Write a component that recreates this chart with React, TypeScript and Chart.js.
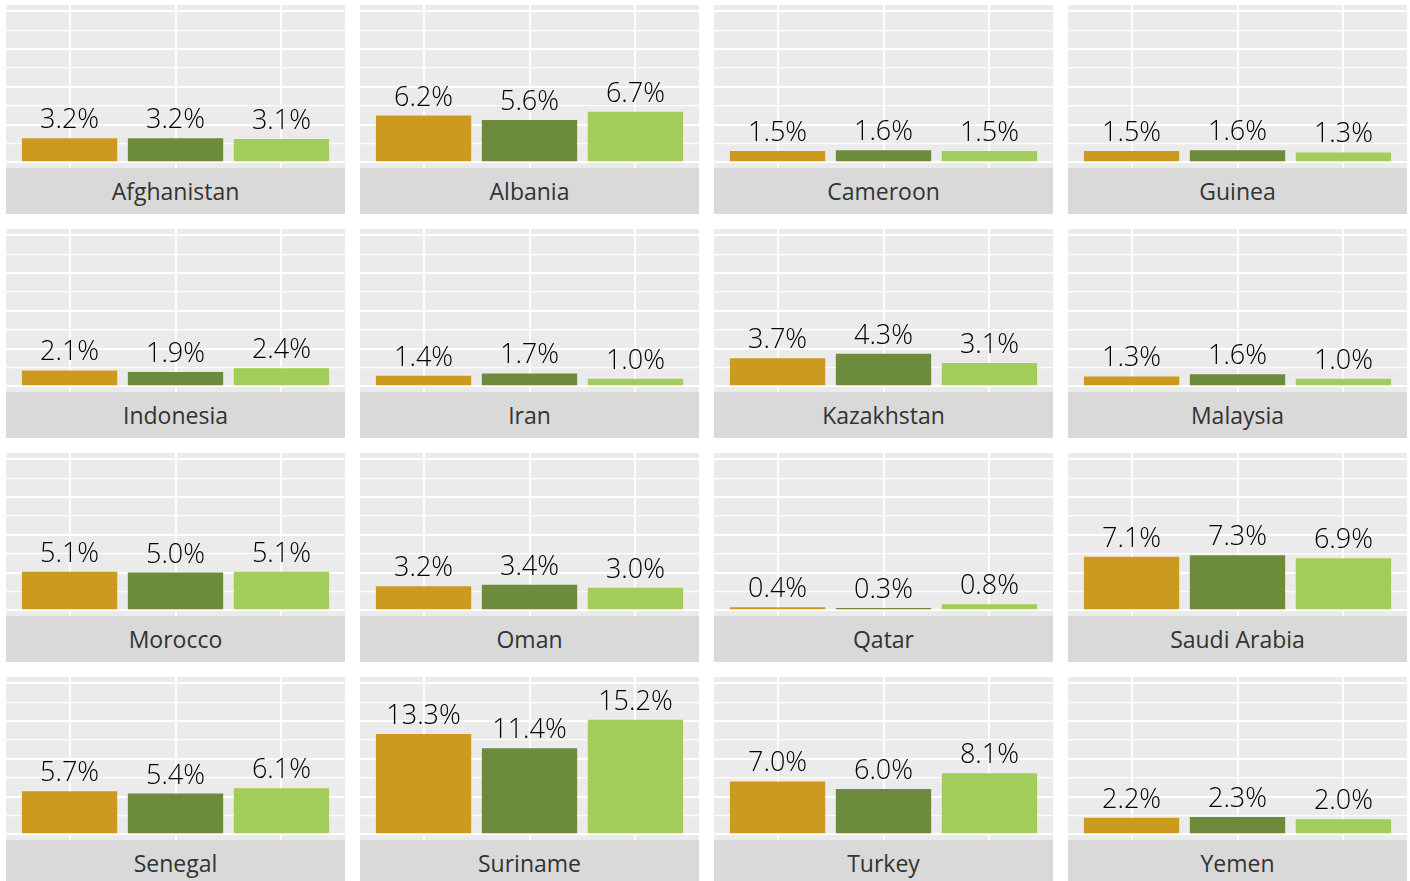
import React, { useEffect, useRef } from "react";
import { Chart, registerables } from "chart.js";

Chart.register(...registerables);

const countries = [
  "Afghanistan", "Albania", "Cameroon", "Guinea",
  "Indonesia", "Iran", "Kazakhstan", "Malaysia",
  "Morocco", "Oman", "Qatar", "Saudi Arabia",
  "Senegal", "Suriname", "Turkey", "Yemen",
];
const bar1Values = [3.2, 6.2, 1.5, 1.5, 2.1, 1.4, 3.7, 1.3, 5.1, 3.2, 0.4, 7.1, 5.7, 13.3, 7.0, 2.2];
const bar2Values = [3.2, 5.6, 1.6, 1.6, 1.9, 1.7, 4.3, 1.6, 5.0, 3.4, 0.3, 7.3, 5.4, 11.4, 6.0, 2.3];
const bar3Values = [3.1, 6.7, 1.5, 1.3, 2.4, 1.0, 3.1, 1.0, 5.1, 3.0, 0.8, 6.9, 6.1, 15.2, 8.1, 2.0];
const barPositions = [1, 2, 3];
const gridValues = [0, 2.5, 5, 7.5, 10, 12.5, 15, 17.5, 20];
const barColors = ["#CD9A20", "#6C8B3C", "#A2CD5A"];

const PANEL_W = 339;
const PLOT_H = 163;
const STRIP_H = 46;
const COL_X = [6, 360, 714, 1068];
const ROW_Y = [5, 229, 453, 677];

const labelPlugin = {
  id: "barLabels",
  afterDatasetsDraw(chart: any) {
    const ctx = chart.ctx;
    const meta = chart.getDatasetMeta(0);
    const ds = chart.data.datasets[0];
    ctx.save();
    ctx.font = '300 27px "Open Sans"';
    ctx.fillStyle = "#000000";
    ctx.textAlign = "center";
    ctx.textBaseline = "alphabetic";
    meta.data.forEach((el: any, i: number) => {
      const v = ds.data[i].y;
      ctx.fillText(v.toFixed(1) + "%", el.x, el.y - 10);
    });
    ctx.restore();
  },
};

function Panel({ idx }: { idx: number }) {
  const ref = useRef<HTMLCanvasElement>(null);
  useEffect(() => {
    const vals = [bar1Values[idx], bar2Values[idx], bar3Values[idx]];
    const chart = new Chart(ref.current!, {
      type: "bar",
      data: {
        datasets: [
          {
            data: barPositions.map((x, i) => ({ x, y: vals[i] })),
            backgroundColor: barColors,
            borderWidth: 0,
            barPercentage: 0.9,
            categoryPercentage: 1,
          },
        ],
      },
      options: {
        animation: false,
        responsive: false,
        devicePixelRatio: 1,
        layout: { padding: 0 },
        plugins: { legend: { display: false }, tooltip: { enabled: false } },
        scales: {
          x: {
            type: "linear",
            min: 0.4,
            max: 3.6,
            offset: false,
            afterBuildTicks: (axis: any) => {
              axis.ticks = barPositions.map((v) => ({ value: v }));
            },
            ticks: { display: false },
            border: { display: false },
            grid: { color: "#FFFFFF", lineWidth: 2, drawTicks: false, offset: false },
          },
          y: {
            type: "linear",
            min: -0.76,
            max: 20.86,
            afterBuildTicks: (axis: any) => {
              axis.ticks = gridValues.map((v) => ({ value: v }));
            },
            ticks: { display: false },
            border: { display: false },
            grid: {
              color: "#FFFFFF",
              drawTicks: false,
              lineWidth: (c: any) => (c.tick && c.tick.value % 5 === 0 ? 2 : 1.2),
            },
          },
        },
      },
      plugins: [labelPlugin],
    } as any);
    return () => chart.destroy();
  }, [idx]);

  const col = idx % 4;
  const row = Math.floor(idx / 4);
  return (
    <div
      style={{
        position: "absolute",
        left: COL_X[col],
        top: ROW_Y[row],
        width: PANEL_W,
        height: PLOT_H + STRIP_H,
      }}
    >
      <canvas
        ref={ref}
        width={PANEL_W}
        height={PLOT_H}
        style={{ display: "block", width: PANEL_W, height: PLOT_H, background: "#EBEBEB" }}
      />
      <div
        style={{
          width: PANEL_W,
          height: STRIP_H,
          background: "#D9D9D9",
          display: "flex",
          alignItems: "center",
          justifyContent: "center",
          fontFamily: '"Open Sans", sans-serif',
          fontWeight: 400,
          fontSize: 23,
          color: "#333333",
          lineHeight: 1,
        }}
      >
        {countries[idx]}
      </div>
    </div>
  );
}

export default function App() {
  return (
    <div
      style={{
        position: "fixed",
        left: 0,
        top: 0,
        width: 1410,
        height: 881,
        overflow: "hidden",
        background: "#FFFFFF",
      }}
    >
      {countries.map((_, i) => (
        <Panel key={i} idx={i} />
      ))}
    </div>
  );
}
